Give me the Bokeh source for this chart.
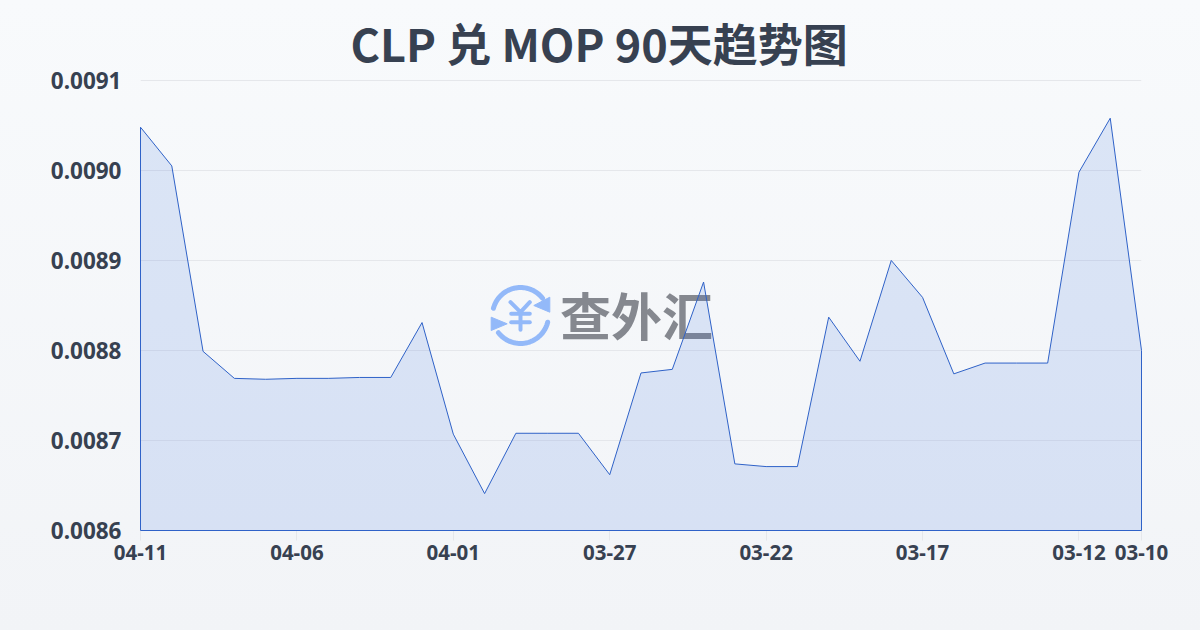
import numpy as np
from bokeh.plotting import figure
from bokeh.models import Range1d, FixedTicker, Label, GlobalInlineStyleSheet
from bokeh.embed import file_html
from bokeh.resources import INLINE

TITLE = "CLP 兑 MOP 90天趋势图"
tick_positions = [0, 5, 10, 15, 20, 25, 30, 32]
tick_labels = ["04-11", "04-06", "04-01", "03-27", "03-22", "03-17", "03-12", "03-10"]
y_ticks = [0.0086, 0.0087, 0.0088, 0.0089, 0.0090, 0.0091]
y_tick_labels = ["0.0086", "0.0087", "0.0088", "0.0089", "0.0090", "0.0091"]
rates = [
    0.009048, 0.009005, 0.008799, 0.008769, 0.008768, 0.008769, 0.008769, 0.008770,
    0.008770, 0.008831, 0.008707, 0.008641, 0.008708, 0.008708, 0.008708, 0.008662,
    0.008775, 0.008779, 0.008876, 0.008674, 0.008671, 0.008671, 0.008837, 0.008788,
    0.008900, 0.008859, 0.008774, 0.008786, 0.008786, 0.008786, 0.008998, 0.009058,
    0.008800,
]
BASE = 0.0086

TEXT = "#374151"
GRID = "#e5e7eb"
LINE = "#2f62c8"
LOGO = "#93b9f9"

page_css = GlobalInlineStyleSheet(css="""
html { height: 100%; background: linear-gradient(180deg, #f8fafc 0%, #f2f4f7 100%); }
body { background: transparent; overflow: hidden; }
""")

p = figure(
    width=1200, height=630, output_backend="svg", toolbar_location=None,
    x_range=Range1d(0, 32), y_range=Range1d(BASE, 0.009101),
    min_border_left=140, min_border_right=59, min_border_top=79, min_border_bottom=100,
    background_fill_alpha=0, border_fill_alpha=0, outline_line_color=None,
    stylesheets=[page_css], title=TITLE,
)
p.title.align = "left"
p.title.offset = 210
p.title.standoff = 9
p.title.text_font = "Noto Sans CJK SC"
p.title.text_font_style = "bold"
p.title.text_font_size = "45px"
p.title.text_color = TEXT

# A pixel-based helper scale for the watermark, y pointing down
p.extra_x_ranges["px"] = Range1d(140, 1141)
p.extra_y_ranges["px"] = Range1d(530, 79)

p.xgrid.visible = False
p.ygrid.grid_line_color = GRID
p.ygrid.grid_line_width = 1
p.ygrid.ticker = FixedTicker(ticks=y_ticks)

xa, ya = p.xaxis[0], p.yaxis[0]
xa.ticker = FixedTicker(ticks=tick_positions)
xa.major_label_overrides = dict(zip(tick_positions, tick_labels))
xa.axis_line_color = None
xa.major_tick_line_color = GRID
xa.major_tick_in = 0
xa.major_tick_out = 10
xa.minor_tick_line_color = None
xa.major_label_standoff = 4
xa.major_label_text_font = "Noto Sans"
xa.major_label_text_font_style = "bold"
xa.major_label_text_font_size = "20.5px"
xa.major_label_text_color = TEXT

ya.ticker = FixedTicker(ticks=y_ticks)
ya.major_label_overrides = dict(zip(y_ticks, y_tick_labels))
ya.axis_line_color = None
ya.major_tick_line_color = None
ya.minor_tick_line_color = None
ya.major_label_standoff = 13
ya.major_label_text_font = "Noto Sans"
ya.major_label_text_font_style = "bold"
ya.major_label_text_font_size = "22.5px"
ya.major_label_text_color = TEXT

# Watermark, underneath the area
t = np.radians(np.linspace(165, 38, 40))
p.line(520 + 28 * np.cos(t), 315 - 28 * np.sin(t), line_color=LOGO, line_width=5, line_cap="round",
       x_range_name="px", y_range_name="px")
t = np.radians(np.linspace(-14, -142, 40))
p.line(520 + 28 * np.cos(t), 315 - 28 * np.sin(t), line_color=LOGO, line_width=5, line_cap="round",
       x_range_name="px", y_range_name="px")
p.patches([[549.3, 549.3, 533.3], [490.7, 490.7, 506.7]], [[296.7, 311.7, 305], [316.7, 330, 323.3]],
          fill_color=LOGO, line_color=LOGO, x_range_name="px", y_range_name="px")
p.multi_line([[510, 520, 529.3], [510.7, 529.3], [510.7, 529.3], [520, 520]],
             [[301.7, 311.7, 301.7], [313.3, 313.3], [321.7, 321.7], [311.7, 329.3]],
             line_color=LOGO, line_width=4, line_cap="round", x_range_name="px", y_range_name="px")
p.add_layout(Label(x=636, y=313, text="查外汇", x_range_name="px", y_range_name="px",
                   text_font="Noto Sans CJK SC", text_font_style="bold", text_font_size="51px",
                   text_color="#85888f", text_align="center", text_baseline="middle", level="glyph"))

# The area with its outline
xs = list(range(len(rates)))
p.patch(xs + [xs[-1], xs[0]], rates + [BASE, BASE], fill_color="#3b72dc", fill_alpha=0.15,
        line_color=LINE, line_width=1, level="annotation")

open("out.html", "w").write(file_html(p, INLINE))
